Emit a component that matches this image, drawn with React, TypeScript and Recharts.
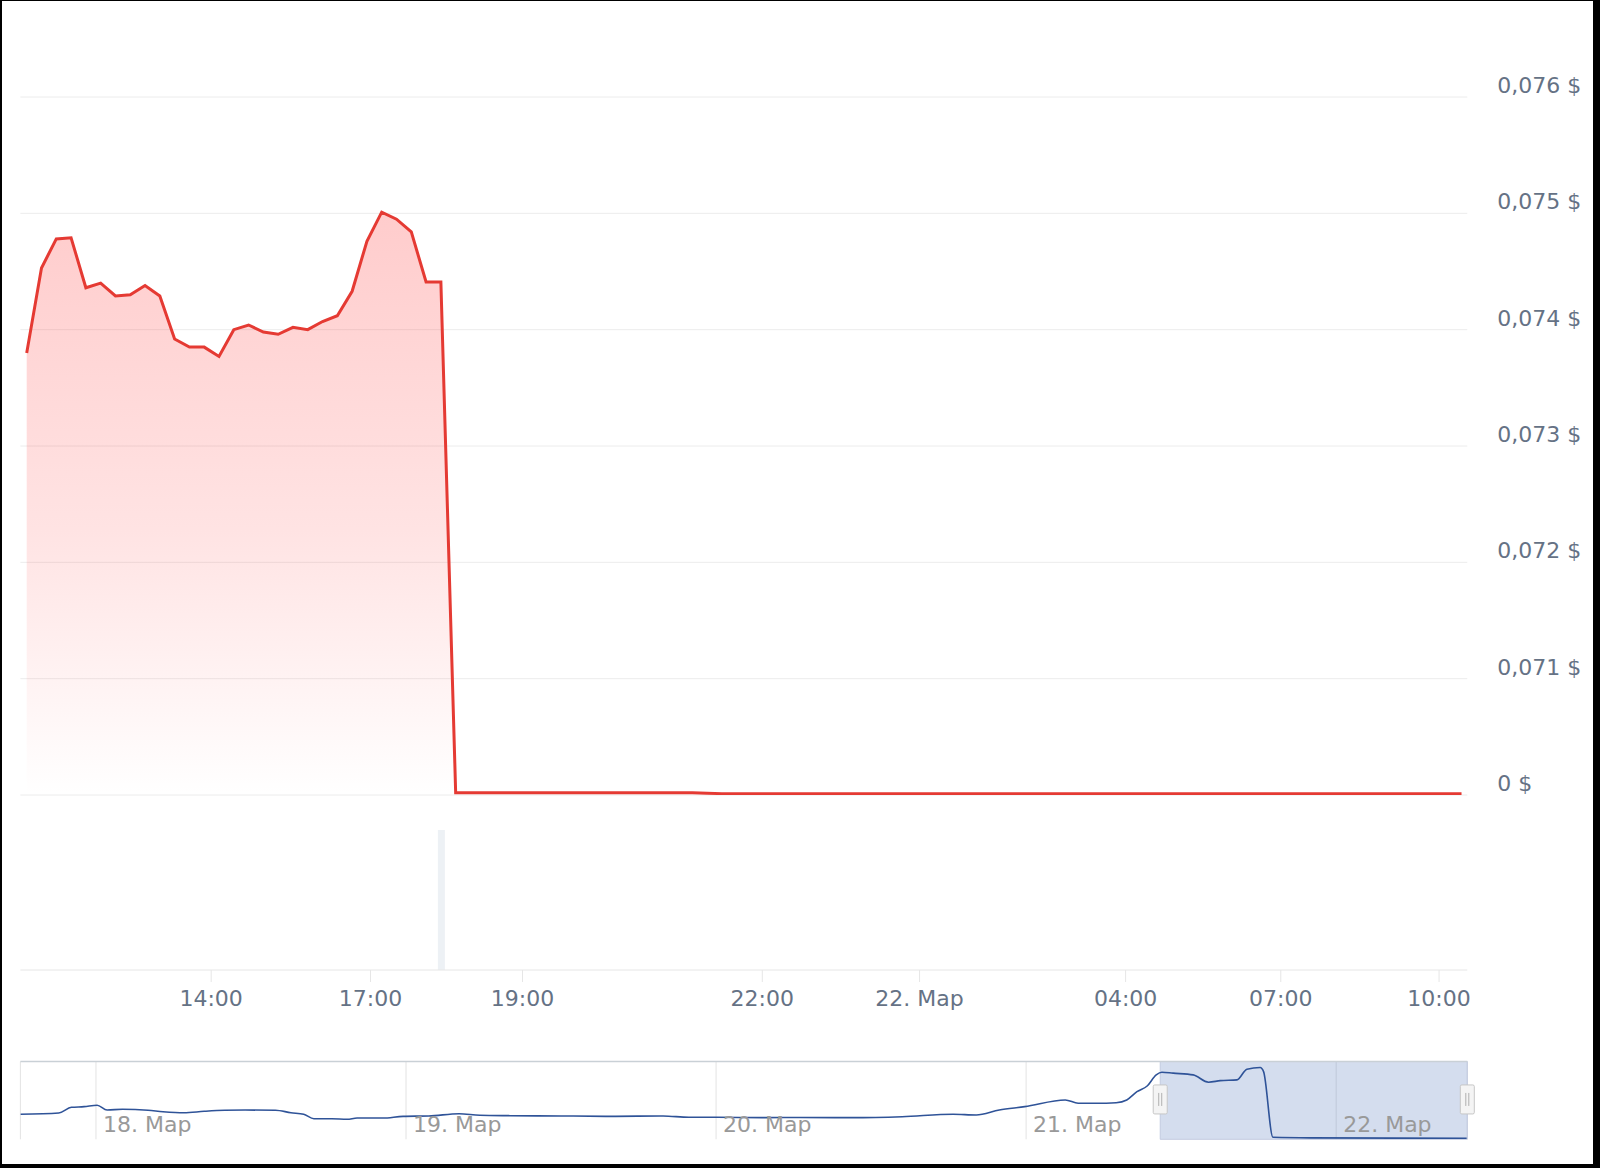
import React from 'react';
import {
  ComposedChart,
  Area,
  Line,
  Bar,
  XAxis,
  YAxis,
  CartesianGrid,
  ReferenceArea,
  ReferenceDot,
  ReferenceLine,
} from 'recharts';

const FONT = '"DejaVu Sans", Verdana, sans-serif';

// price per quote, ordinal axis (one slot per quote)
const pricesBeforeDrop = [
  0.0738, 0.07453, 0.07478, 0.07479, 0.07436, 0.0744, 0.07429, 0.0743, 0.07438, 0.07429,
  0.07392, 0.07385, 0.07385, 0.07377, 0.074, 0.07404, 0.07398, 0.07396, 0.07402, 0.074,
  0.07407, 0.07412, 0.07433, 0.07476, 0.07501, 0.07495, 0.07484, 0.07441, 0.07441,
];
const pricesAfterDrop = [
  0.00002, 0.00002, 0.00002, 0.00002, 0.00002, 0.00002, 0.00002, 0.00002, 0.00002, 0.00002,
  0.00002, 0.00002, 0.00002, 0.00002, 0.00002, 0.00002, 0.00002, 0.000016,
  0.0000115, 0.0000115, 0.0000115, 0.0000115, 0.0000115, 0.0000115, 0.0000115, 0.0000115,
  0.0000115, 0.0000115, 0.0000115, 0.0000115, 0.0000115, 0.0000115, 0.0000115, 0.0000115,
  0.0000115, 0.0000115, 0.0000115, 0.0000115, 0.0000115, 0.0000115, 0.0000115, 0.0000115,
  0.0000115, 0.0000115, 0.0000115, 0.0000115, 0.0000115, 0.0000115, 0.0000115, 0.0000115,
  0.0000115, 0.0000115, 0.0000115, 0.0000115, 0.0000115, 0.0000115, 0.0000115, 0.0000115,
  0.0000115, 0.0000115, 0.0000115, 0.0000115, 0.0000115, 0.0000115, 0.0000115, 0.0000115,
  0.0000115, 0.0000115, 0.0000115,
];
const prices = [...pricesBeforeDrop, ...pricesAfterDrop];

// y axis is broken: everything below 0,070 is drawn just above the "0 $" line
const BREAK_AT = 0.07;
const yTicks = [0.07, 0.071, 0.072, 0.073, 0.074, 0.075, 0.076];
const yTickLabels = ['0 $', '0,071 $', '0,072 $', '0,073 $', '0,074 $', '0,075 $', '0,076 $'];

// time labels sit between quotes on the ordinal axis
const xTickIdx = [12.47, 23.24, 33.52, 49.73, 60.36, 74.29, 84.78, 95.48];
const xTickLabels = ['14:00', '17:00', '19:00', '22:00', '22. Мар', '04:00', '07:00', '10:00'];

const volumeIdx = [28];
const volumeValues = [1];

// navigator: hours since 18 Мар 00:00
const navHours = [
  -5.85, -2.88, -1.9, -0.92, 0.09, 0.86, 2.05, 4.03, 5.19, 6.8, 8.37, 9.96, 11.54, 13.9, 15.09,
  16.08, 16.87, 18.25, 19.44, 20.21, 22.2, 23.77, 25.76, 28.11, 29.71, 32.06, 36.01, 39.96, 43.9,
  45.9, 47.85, 51.8, 54.51, 58.46, 62.41, 66.35, 68.14, 69.92, 71.89, 75.03, 76.03, 77.43, 78.97,
  79.79, 80.58, 81.37, 82.07, 82.51, 83.38, 84.93, 86.12, 87.03, 88.32, 89.09, 90.12, 90.38,
  91.11, 94.0, 106.1,
];
const navPrices = [
  0.0254, 0.0267, 0.0327, 0.0334, 0.0349, 0.0299, 0.0306, 0.0296, 0.0281, 0.027, 0.0285, 0.0296,
  0.0299, 0.0296, 0.027, 0.0254, 0.0207, 0.0207, 0.0201, 0.0214, 0.0214, 0.0232, 0.0236, 0.026,
  0.0243, 0.0239, 0.0236, 0.0232, 0.0236, 0.0222, 0.0222, 0.0218, 0.022, 0.0218, 0.0228, 0.0254,
  0.0246, 0.0299, 0.0334, 0.0405, 0.037, 0.037, 0.0376, 0.0405, 0.0492, 0.0552, 0.0669, 0.0697,
  0.0687, 0.0669, 0.0592, 0.0608, 0.0616, 0.0729, 0.0746, 0.0703, 0.0011, 0.0005, 0.0001,
];
const navDayHours = [0, 24, 48, 72, 96];
const navDayLabels = ['18. Мар', '19. Мар', '20. Мар', '21. Мар', '22. Мар'];
const navWindow = [82.38, 106.15];

const mainData = prices.map((p, i) => ({ i, price: p, plot: p < BREAK_AT ? BREAK_AT + p : p }));
const volData = volumeIdx.map((i, k) => ({ i, vol: volumeValues[k] }));
const navData = navHours.map((h, k) => ({ h, p: navPrices[k] }));

const W = 1600;
const H = 1168;
const PLOT_LEFT = 20.4;
const RIGHT_GUTTER = 132.7;
const X_DOMAIN: [number, number] = [-0.426, 97.39];
const NAV_DOMAIN: [number, number] = [-5.85, 106.15];
const NAV_Y: [number, number] = [-0.001, 0.081];
const NAV_TOP = 1061.5;
const NAV_BOTTOM = 1139.3;

const labelColor = '#657285';

const renderYTick = (props: any) => {
  const k = yTicks.indexOf(props.payload.value);
  return (
    <text x={1497.3} y={props.y - 4} fill={labelColor} fontSize={22} fontFamily={FONT}>
      {yTickLabels[k]}
    </text>
  );
};

const renderXTick = (props: any) => {
  const k = xTickIdx.indexOf(props.payload.value);
  return (
    <text x={props.x} y={1006} fill={labelColor} fontSize={22} fontFamily={FONT} textAnchor="middle">
      {xTickLabels[k]}
    </text>
  );
};

const renderNavTick = (props: any) => {
  const k = navDayHours.indexOf(props.payload.value);
  return (
    <text x={props.x + 7} y={1131.7} fill="#999999" fontSize={22} fontFamily={FONT}>
      {navDayLabels[k]}
    </text>
  );
};

const Handle = (props: any) => {
  const { cx, cy } = props;
  return (
    <g>
      <rect x={cx - 7} y={cy - 14.5} width={14} height={29} fill="#f4f4f4" stroke="#c6c6c6" strokeWidth={1} rx={1.5} />
      <line x1={cx - 1.5} x2={cx - 1.5} y1={cy - 6.5} y2={cy + 6.5} stroke="#b0b0b0" strokeWidth={1} />
      <line x1={cx + 1.5} x2={cx + 1.5} y1={cy - 6.5} y2={cy + 6.5} stroke="#b0b0b0" strokeWidth={1} />
    </g>
  );
};

const layer: React.CSSProperties = { position: 'absolute', left: 0, top: 0 };

export default function App() {
  return (
    <div style={{ position: 'absolute', left: 0, top: 0, width: W, height: H, background: '#fff', overflow: 'hidden' }}>
      {/* price pane */}
      <div style={layer}>
        <ComposedChart width={W} height={H} data={mainData} margin={{ top: 97, right: 0, bottom: H - 795, left: PLOT_LEFT }}>
          <defs>
            <linearGradient id="priceFill" x1="0" y1="0" x2="0" y2="1">
              <stop offset="0%" stopColor="#ff2a2a" stopOpacity={0.24} />
              <stop offset="55%" stopColor="#ff2a2a" stopOpacity={0.13} />
              <stop offset="100%" stopColor="#ff2a2a" stopOpacity={0} />
            </linearGradient>
          </defs>
          <CartesianGrid vertical={false} stroke="#ececec" strokeWidth={1} />
          <XAxis dataKey="i" type="number" domain={X_DOMAIN} hide allowDataOverflow />
          <YAxis
            orientation="right"
            width={RIGHT_GUTTER}
            domain={[0.07, 0.076]}
            ticks={yTicks}
            interval={0}
            axisLine={false}
            tickLine={false}
            tick={renderYTick}
            allowDataOverflow
          />
          <Area
            type="linear"
            dataKey="plot"
            stroke="#e53a33"
            strokeWidth={3}
            fill="url(#priceFill)"
            fillOpacity={1}
            dot={false}
            activeDot={false}
            isAnimationActive={false}
          />
        </ComposedChart>
      </div>

      {/* volume pane + time axis */}
      <div style={layer}>
        <ComposedChart width={W} height={H} data={volData} margin={{ top: 830, right: RIGHT_GUTTER, bottom: H - 970 - 40, left: PLOT_LEFT }}>
          <XAxis
            dataKey="i"
            type="number"
            domain={X_DOMAIN}
            ticks={xTickIdx}
            interval={0}
            height={40}
            axisLine={{ stroke: '#e6e6e6' }}
            tickLine={{ stroke: '#e6e6e6' }}
            tickSize={12}
            tick={renderXTick}
            allowDataOverflow
          />
          <YAxis hide domain={[0, 'dataMax']} />
          <Bar dataKey="vol" barSize={7} fill="#edf1f5" isAnimationActive={false} />
        </ComposedChart>
      </div>

      {/* navigator */}
      <div style={layer}>
        <ComposedChart
          width={W}
          height={H}
          data={navData}
          margin={{ top: NAV_TOP, right: RIGHT_GUTTER, bottom: H - NAV_BOTTOM - 24, left: PLOT_LEFT }}
        >
          <CartesianGrid horizontal={false} stroke="#e3e3e3" />
          <XAxis
            dataKey="h"
            type="number"
            domain={NAV_DOMAIN}
            ticks={navDayHours}
            interval={0}
            height={24}
            axisLine={false}
            tickLine={false}
            tick={renderNavTick}
            allowDataOverflow
          />
          <YAxis hide domain={NAV_Y} allowDataOverflow />
          <ReferenceLine y={NAV_Y[1]} stroke="#c9d0d6" strokeWidth={1.5} />
          <Line
            type="monotone"
            dataKey="p"
            stroke="#2f5398"
            strokeWidth={1.6}
            dot={false}
            activeDot={false}
            isAnimationActive={false}
          />
          <ReferenceArea
            x1={navWindow[0]}
            x2={navWindow[1]}
            fill="#6685c2"
            fillOpacity={0.28}
            stroke="#c3cbe0"
            ifOverflow="visible"
          />
          <ReferenceDot x={navWindow[0]} y={0.041} shape={Handle} ifOverflow="visible" />
          <ReferenceDot x={navWindow[1]} y={0.041} shape={Handle} ifOverflow="visible" />
        </ComposedChart>
      </div>

      {/* screenshot frame */}
      <div
        style={{
          position: 'absolute',
          left: 0,
          top: 0,
          width: W,
          height: H,
          boxSizing: 'border-box',
          borderTop: '1px solid #000',
          borderLeft: '2px solid #000',
          borderRight: '7px solid #000',
          borderBottom: '4px solid #000',
          pointerEvents: 'none',
        }}
      />
    </div>
  );
}
